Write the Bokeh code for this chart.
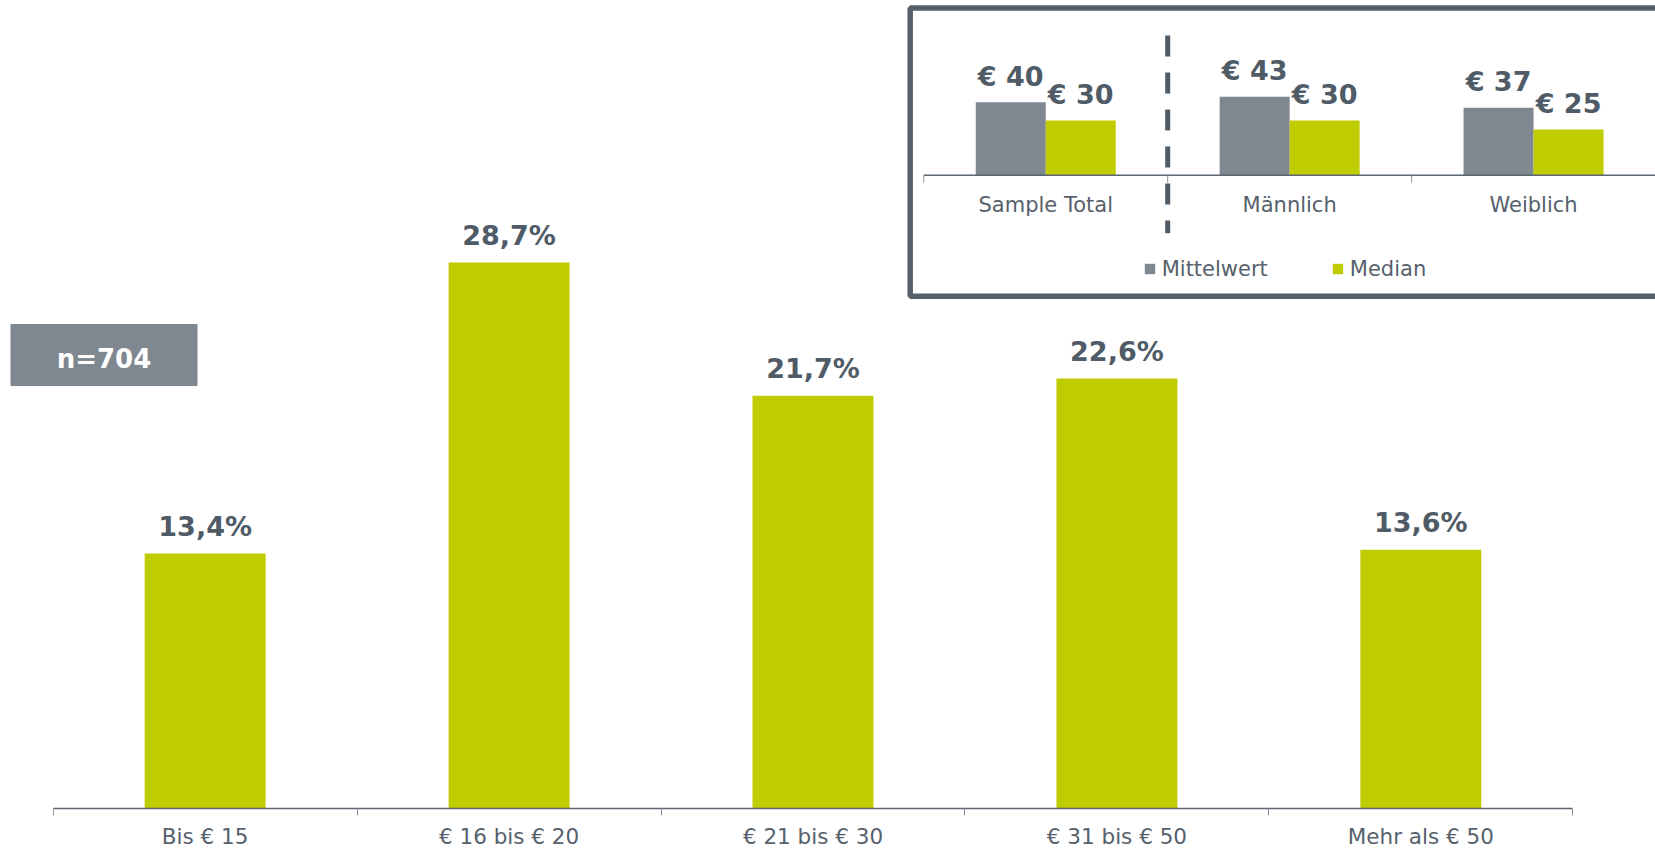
from bokeh.plotting import figure
from bokeh.models import (Range1d, FixedTicker, BoxAnnotation, Label, Legend,
                          LegendItem, ColumnDataSource)
from bokeh.core.properties import value
from bokeh.embed import file_html
from bokeh.resources import INLINE

# ---------------- data ----------------
categories = ["Bis € 15", "€ 16 bis € 20", "€ 21 bis € 30", "€ 31 bis € 50", "Mehr als € 50"]
shares = [13.4, 28.7, 21.7, 22.6, 13.6]
share_labels = ["13,4%", "28,7%", "21,7%", "22,6%", "13,6%"]

groups = ["Sample Total", "Männlich", "Weiblich"]
mean_values = [40, 43, 37]
median_values = [30, 30, 25]
mean_labels = ["€ 40", "€ 43", "€ 37"]
median_labels = ["€ 30", "€ 30", "€ 25"]
series_names = ["Mittelwert", "Median"]
sample_size = "n=704"

# ---------------- layout / style ----------------
W, H = 1655, 851
FRAME_H = 809                 # main axis line (frame bottom)
AX_L, AX_R = 52.7, 1572.3     # main axis extent
UNIT = (AX_R - AX_L) / len(categories)
PX_PCT = 19.05                # pixels per percent
IN_L = 923.3                  # inset axis start
IN_UNIT = 243.9               # inset category width
IN_AX_Y = 175                 # inset axis line (from top)
PX_EUR = 1.83                 # inset pixels per euro

GREEN = "#bfcd00"
GREY = "#7f8790"
DARK = "#4f5b66"
TEXT = "#56616c"
FONT = "DejaVu Sans"


def px_x(px):
    return (px - AX_L) / UNIT


def px_y(py):
    return (FRAME_H - py) / PX_PCT


p = figure(width=W, height=H, output_backend="svg", toolbar_location=None,
           x_range=Range1d(-AX_L / UNIT, (W - AX_L) / UNIT),
           y_range=Range1d(0, FRAME_H / PX_PCT),
           y_axis_location=None, min_border=0, min_border_left=0,
           min_border_right=0, min_border_top=0, min_border_bottom=H - FRAME_H)
p.outline_line_color = None
p.grid.visible = False
p.background_fill_color = "white"
p.border_fill_color = "white"

# ---------------- main chart ----------------
ax = p.xaxis[0]
ax.ticker = FixedTicker(ticks=[i + 0.5 for i in range(len(categories))],
                        minor_ticks=list(range(len(categories) + 1)))
ax.major_label_overrides = {i + 0.5: c for i, c in enumerate(categories)}
ax.major_tick_in = 0
ax.major_tick_out = 0
ax.minor_tick_in = 0
ax.minor_tick_out = 7
ax.minor_tick_line_color = "#8c939a"
ax.axis_line_color = "#5b6670"
ax.axis_line_width = 1.5
ax.bounds = (0, len(categories))
ax.major_label_text_font = FONT
ax.major_label_text_font_size = "21.5px"
ax.major_label_text_color = TEXT
ax.major_label_standoff = 8

main_src = ColumnDataSource(dict(x=[i + 0.5 for i in range(len(categories))],
                                 top=shares, label=share_labels))
p.vbar(x="x", top="top", width=0.398, source=main_src, fill_color=GREEN, line_color=None)
p.text(x="x", y="top", text="label", source=main_src, text_align="center",
       text_baseline="alphabetic", y_offset=-27, text_font=value(FONT),
       text_font_style="bold", text_font_size="27px", text_color=DARK)

# ---------------- n box ----------------
p.add_layout(BoxAnnotation(left=px_x(10), right=px_x(197), top=px_y(324), bottom=px_y(386),
                           fill_color=GREY, fill_alpha=1, line_color=None, level="underlay"))
p.add_layout(Label(x=px_x(103.5), y=px_y(359), text=sample_size, text_align="center",
                   text_baseline="middle", text_font=FONT, text_font_style="bold",
                   text_font_size="26px", text_color="white"))

# ---------------- inset ----------------
p.extra_x_ranges = {"inset_x": Range1d(-IN_L / IN_UNIT, (W - IN_L) / IN_UNIT)}
p.extra_y_ranges = {"inset_y": Range1d(-(FRAME_H - IN_AX_Y) / PX_EUR, IN_AX_Y / PX_EUR)}
RN = dict(x_range_name="inset_x", y_range_name="inset_y")

# frame
p.add_layout(BoxAnnotation(left=px_x(909.7), right=px_x(W + 30), top=px_y(7.5), bottom=px_y(296),
                           fill_alpha=0, line_color="#56616c", line_alpha=1, line_width=5.5))

BW = 70 / IN_UNIT
gx = [i + 0.5 for i in range(len(groups))]
mean_src = ColumnDataSource(dict(x=[v - BW / 2 for v in gx], top=mean_values, label=mean_labels))
med_src = ColumnDataSource(dict(x=[v + BW / 2 for v in gx], top=median_values, label=median_labels))
r_mean = p.vbar(x="x", top="top", width=BW, source=mean_src, fill_color=GREY, line_color=None, **RN)
r_med = p.vbar(x="x", top="top", width=BW, source=med_src, fill_color=GREEN, line_color=None, **RN)
for src in (mean_src, med_src):
    p.text(x="x", y="top", text="label", source=src, text_align="center",
           text_baseline="alphabetic", y_offset=-26, text_font=value(FONT),
           text_font_style="bold", text_font_size="27px", text_color=DARK, **RN)

# inset axis line + ticks
p.segment(x0=[0], y0=[0], x1=[len(groups)], y1=[0], line_color="#5b6670", line_width=1.5, **RN)
p.segment(x0=list(range(len(groups) + 1)), y0=[0] * (len(groups) + 1),
          x1=list(range(len(groups) + 1)), y1=[-7.5 / PX_EUR] * (len(groups) + 1),
          line_color="#8c939a", line_width=1, **RN)
p.text(x=gx, y=[0] * len(groups), text=groups, text_align="center", text_baseline="alphabetic",
       y_offset=30, text_font=value(FONT), text_font_size="21px", text_color=TEXT, **RN)

# dashed separator
p.segment(x0=[1], y0=[(IN_AX_Y - 35) / PX_EUR], x1=[1], y1=[(IN_AX_Y - 233) / PX_EUR],
          line_color=DARK, line_width=5, line_dash="21 16", line_cap="butt", **RN)

legend = Legend(items=[LegendItem(label=series_names[0], renderers=[r_mean]),
                       LegendItem(label=series_names[1], renderers=[r_med])],
                orientation="horizontal", location=(1142.7, FRAME_H - 281.5),
                glyph_width=13, glyph_height=13, label_standoff=6, spacing=63,
                padding=0, margin=0, border_line_color=None, background_fill_alpha=0,
                label_text_font=FONT, label_text_font_size="21px", label_text_color=TEXT)
p.add_layout(legend)

open("out.html", "w").write(file_html(p, INLINE))
